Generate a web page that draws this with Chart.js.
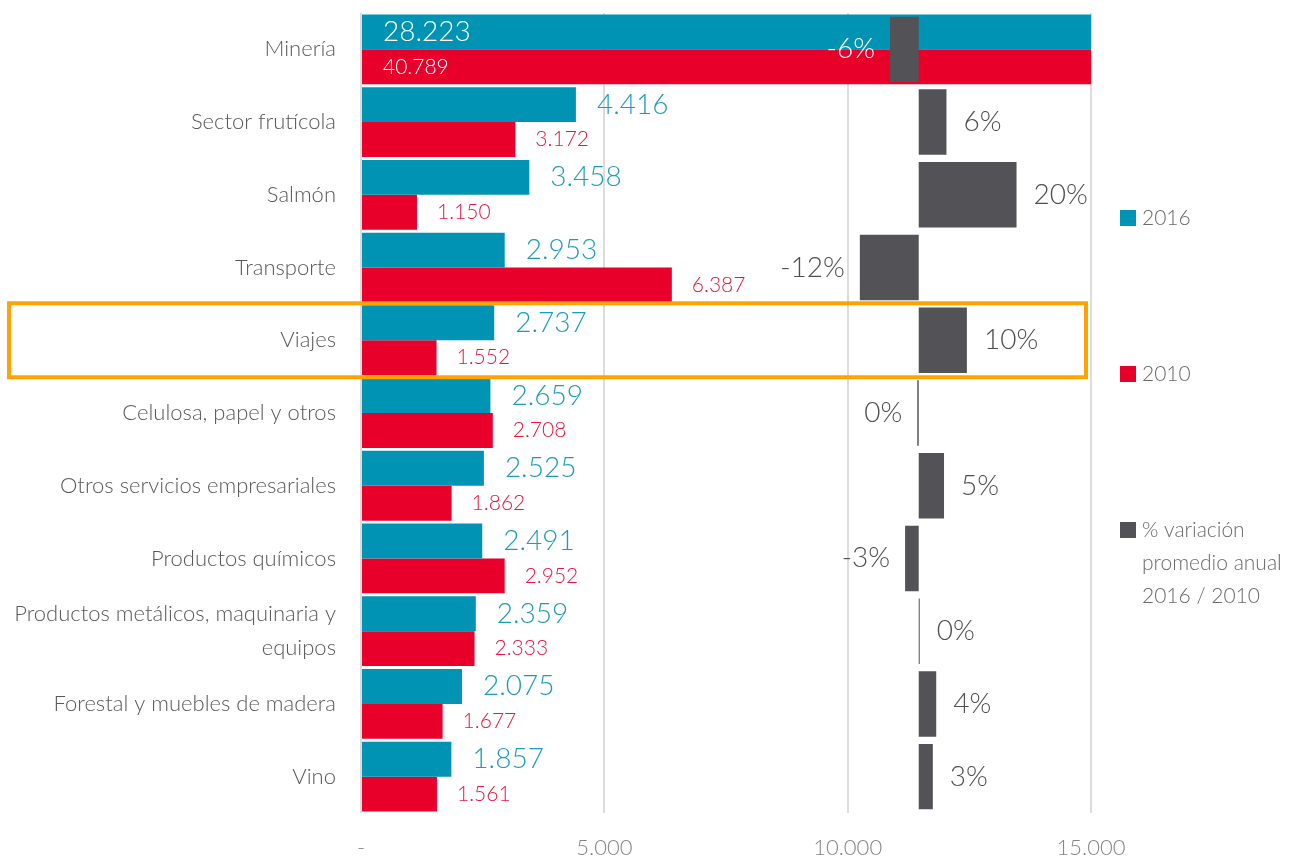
<!DOCTYPE html>
<html lang="es">
<head>
<meta charset="utf-8">
<title>Exportaciones por sector 2016 vs 2010</title>
<script src="https://cdn.jsdelivr.net/npm/chart.js@4.4.1/dist/chart.umd.min.js"></script>
<style>
  html, body { margin: 0; padding: 0; background: #ffffff; }
  .chart-wrap { position: relative; width: 1297px; height: 862px; }
</style>
</head>
<body>
<div class="chart-wrap">
  <canvas id="sectorChart"></canvas>
</div>
<script>
const categories = [
  'Minería',
  'Sector frutícola',
  'Salmón',
  'Transporte',
  'Viajes',
  'Celulosa, papel y otros',
  'Otros servicios empresariales',
  'Productos químicos',
  ['Productos metálicos, maquinaria y', 'equipos'],
  'Forestal y muebles de madera',
  'Vino',
];
const values2016 = [28223, 4416, 3458, 2953, 2737, 2659, 2525, 2491, 2359, 2075, 1857];
const values2010 = [40789, 3172, 1150, 6387, 1552, 2708, 1862, 2952, 2333, 1677, 1561];
// % variación promedio anual 2016 / 2010
const variation = [-5.9, 5.7, 20.1, -12.1, 9.9, -0.3, 5.2, -2.8, 0.2, 3.6, 2.9];
const xTicks = [0, 5000, 10000, 15000];
const highlightIndex = 4;

const TEAL = '#0093b3';
const RED = '#e8002b';
const GREY = '#535357';
const FONT = 'Lato, "Open Sans", sans-serif';

function formatThousands(value) {
  return String(Math.round(value)).replace(/\B(?=(\d{3})+(?!\d))/g, '.');
}

const valueLabels = {
  id: 'valueLabels',
  afterDatasetsDraw(chart) {
    const ctx = chart.ctx;
    const xMax = chart.scales.x.max;
    ctx.save();
    ctx.textBaseline = 'middle';
    ctx.textAlign = 'left';

    const specs = [
      { index: 0, values: values2016, font: `300 28px ${FONT}`, color: '#1d9cba', gap: 21 },
      { index: 1, values: values2010, font: `300 21px ${FONT}`, color: '#e8173d', gap: 20 },
    ];
    specs.forEach((spec) => {
      const meta = chart.getDatasetMeta(spec.index);
      ctx.font = spec.font;
      meta.data.forEach((bar, i) => {
        const value = spec.values[i];
        if (value > xMax) {
          ctx.fillStyle = '#ffffff';
          ctx.fillText(formatThousands(value), bar.base + 21, bar.y);
        } else {
          ctx.fillStyle = spec.color;
          ctx.fillText(formatThousands(value), bar.x + spec.gap, bar.y);
        }
      });
    });

    const varMeta = chart.getDatasetMeta(2);
    ctx.font = `300 28px ${FONT}`;
    varMeta.data.forEach((bar, i) => {
      const value = variation[i];
      const text = `${Math.round(value)}%`;
      ctx.fillStyle = values2016[i] > xMax ? '#ffffff' : '#4e4e52';
      if (value >= 0) {
        ctx.textAlign = 'left';
        ctx.fillText(text, Math.max(bar.x, bar.base) + 17, bar.y);
      } else {
        ctx.textAlign = 'right';
        ctx.fillText(text, Math.min(bar.x, bar.base) - 15, bar.y);
      }
    });
    ctx.restore();
  },
  afterDraw(chart) {
    const ctx = chart.ctx;
    const y = chart.scales.y.getPixelForValue(highlightIndex);
    ctx.save();
    ctx.strokeStyle = '#ffa300';
    ctx.lineWidth = 4;
    ctx.strokeRect(9, y - 37, 1077, 74);

    // legend on the right
    const items = [
      { color: TEAL, lines: ['2016'], y: 218 },
      { color: RED, lines: ['2010'], y: 374 },
      { color: GREY, lines: ['% variación', 'promedio anual', '2016 / 2010'], y: 530 },
    ];
    ctx.font = `300 21px ${FONT}`;
    ctx.textAlign = 'left';
    ctx.textBaseline = 'middle';
    items.forEach((item) => {
      ctx.fillStyle = item.color;
      ctx.fillRect(1120, item.y - 8, 16, 16);
      ctx.fillStyle = '#6a6a6a';
      item.lines.forEach((line, k) => {
        ctx.fillText(line, 1142, item.y + k * 33);
      });
    });
    ctx.restore();
  },
};

new Chart(document.getElementById('sectorChart'), {
  type: 'bar',
  data: {
    labels: categories,
    datasets: [
      {
        label: '2016',
        data: values2016,
        backgroundColor: TEAL,
        categoryPercentage: 0.96,
        barPercentage: 1,
        order: 1,
      },
      {
        label: '2010',
        data: values2010,
        backgroundColor: RED,
        categoryPercentage: 0.96,
        barPercentage: 1,
        order: 1,
      },
      {
        label: '% variación promedio anual 2016 / 2010',
        data: variation,
        backgroundColor: GREY,
        xAxisID: 'x2',
        grouped: false,
        categoryPercentage: 0.9,
        barPercentage: 1,
        minBarLength: 1,
        order: 0,
      },
    ],
  },
  options: {
    indexAxis: 'y',
    responsive: true,
    maintainAspectRatio: false,
    animation: false,
    layout: { padding: { top: 13, right: 206, bottom: 0, left: 0 } },
    plugins: {
      legend: { display: false },
      tooltip: { enabled: false },
    },
    scales: {
      x: {
        min: 0,
        max: 15000,
        afterFit: (scale) => { scale.height = 49; },
        afterBuildTicks: (scale) => { scale.ticks = xTicks.map((value) => ({ value })); },
        border: { display: false },
        grid: { color: '#dcdcdc', lineWidth: 2, drawTicks: false },
        ticks: {
          padding: 22,
          color: '#858585',
          font: { family: FONT, size: 22, weight: 300 },
          callback: (value) => (value === 0 ? '-' : formatThousands(value)),
        },
      },
      x2: {
        type: 'linear',
        position: 'bottom',
        display: false,
        min: -114.6,
        max: 35.4,
      },
      y: {
        afterFit: (scale) => {
          scale.width = 361;
          scale.paddingTop = 0;
          scale.paddingBottom = 0;
        },
        border: { display: false },
        grid: { display: false },
        ticks: {
          autoSkip: false,
          padding: 17,
          color: '#595959',
          font: { family: FONT, size: 22, weight: 300, lineHeight: 1.55 },
        },
      },
    },
  },
  plugins: [valueLabels],
});
</script>
</body>
</html>
